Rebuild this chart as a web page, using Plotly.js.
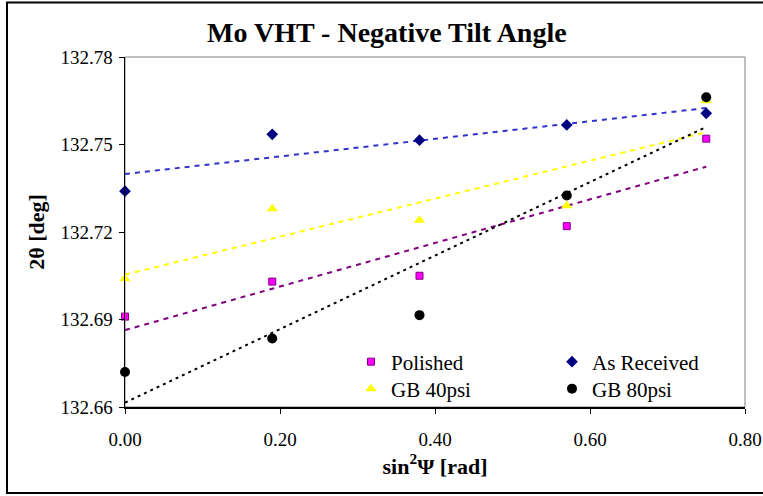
<!DOCTYPE html>
<html><head><meta charset="utf-8">
<script src="https://cdn.plot.ly/plotly-3.0.1.min.js"></script>
<style>html,body{margin:0;padding:0;background:#fff}</style>
</head><body><div id="chart" style="width:763px;height:496px"></div>
<script>
// ---- data ----
const sin2psi    = [0.00, 0.19, 0.38, 0.57, 0.75];
const polished   = [132.691, 132.703, 132.705, 132.722, 132.752];
const asReceived = [132.734, 132.7535, 132.7515, 132.7567, 132.7607];
const gb40       = [132.704, 132.728, 132.724, 132.729, 132.765];
const gb80       = [132.672, 132.6835, 132.6915, 132.7325, 132.7662];
const seriesNames = ['Polished', 'As Received', 'GB 40psi', 'GB 80psi'];
const xTicks = [0, 0.2, 0.4, 0.6, 0.8];
const yTicks = [132.66, 132.69, 132.72, 132.75, 132.78];

// least-squares linear trendline (as in the spreadsheet chart)
function fit(x, y) {
  const n = x.length;
  const mx = x.reduce((a, b) => a + b, 0) / n;
  const my = y.reduce((a, b) => a + b, 0) / n;
  let sxy = 0, sxx = 0;
  for (let i = 0; i < n; i++) { sxy += (x[i] - mx) * (y[i] - my); sxx += (x[i] - mx) ** 2; }
  const m = sxy / sxx;
  return { m: m, b: my - m * mx };
}
function trend(y, color, dash) {
  const f = fit(sin2psi, y);
  const xs = [Math.min(...sin2psi), Math.max(...sin2psi)];
  return { x: xs, y: xs.map(v => f.b + f.m * v), mode: 'lines', showlegend: false, hoverinfo: 'skip',
           line: { color: color, width: 2, dash: dash }, cliponaxis: false };
}

const FONT = '"Liberation Serif", "Times New Roman", Times, serif';
const traces = [
  trend(asReceived, '#3333CC', '5px,5px'),
  trend(gb40, '#FFFF00', '5px,5px'),
  trend(polished, '#800080', '5px,5px'),
  trend(gb80, '#000000', '3px,4px'),
  { x: sin2psi, y: polished, name: seriesNames[0], mode: 'markers', legend: 'legend', cliponaxis: false,
    marker: { symbol: 'square', size: 7, color: '#FF00FF', line: { color: '#800080', width: 1 } } },
  { x: sin2psi, y: asReceived, name: seriesNames[1], mode: 'markers', legend: 'legend2', cliponaxis: false,
    marker: { symbol: 'diamond', size: 9, color: '#000080' } },
  { x: sin2psi, y: gb40, name: seriesNames[2], mode: 'markers', legend: 'legend3', cliponaxis: false,
    marker: { symbol: 'triangle-up', size: 10, color: '#FFFF00' } },
  { x: sin2psi, y: gb80, name: seriesNames[3], mode: 'markers', legend: 'legend4', cliponaxis: false,
    marker: { symbol: 'circle', size: 10, color: '#000000' } }
];

// pixel helpers for placement
const L = 125, R = 745, T = 57, B = 407;
const px = v => (v - L) / (R - L);
const py = v => (B - v) / (B - T);
function leg(xp, yp) {
  return { x: px(xp), y: py(yp), xanchor: 'left', yanchor: 'middle', bgcolor: 'rgba(0,0,0,0)',
           borderwidth: 0, font: { family: FONT, size: 21, color: '#000' } };
}

const layout = {
  width: 763, height: 496,
  margin: { l: L, r: 763 - R, t: T, b: 496 - B },
  paper_bgcolor: '#fff', plot_bgcolor: '#fff',
  font: { family: FONT, color: '#000' },
  title: { text: 'Mo VHT - Negative Tilt Angle', x: 0.507, xanchor: 'center', y: 1 - 32 / 496, yanchor: 'middle',
           font: { family: FONT, size: 28, weight: 'bold', color: '#000' } },
  xaxis: { range: [0, 0.8], tickvals: xTicks, tickformat: '.2f', ticks: 'outside', ticklen: 5, tickcolor: '#000',
           showline: true, linecolor: '#000', linewidth: 1.5, showgrid: false, zeroline: false,
           tickfont: { family: FONT, size: 19, color: '#000' }, ticklabelstandoff: 10,
           title: { text: 'sin<sup>2</sup>Ψ [rad]', standoff: 6, font: { family: FONT, size: 22, weight: 'bold', color: '#000' } } },
  yaxis: { range: [132.66, 132.78], tickvals: yTicks, tickformat: '.2f', ticks: 'outside', ticklen: 5, tickcolor: '#000',
           showline: true, linecolor: '#000', linewidth: 1.5, showgrid: false, zeroline: false,
           tickfont: { family: FONT, size: 19, color: '#000' }, ticklabelstandoff: 2,
           title: { text: '2θ [deg]', standoff: 10, font: { family: FONT, size: 22, weight: 'bold', color: '#000' } } },
  legend: leg(351, 362),
  legend2: leg(552, 362),
  legend3: leg(351, 389),
  legend4: leg(552, 389),
  shapes: [
    { type: 'rect', xref: 'paper', yref: 'paper', x0: 0, x1: 1, y0: 0, y1: 1, layer: 'below',
      line: { color: '#808080', width: 1 } },
    { type: 'rect', xref: 'paper', yref: 'paper', x0: px(7), x1: px(775), y0: py(493), y1: py(2.5), layer: 'below',
      line: { color: '#000', width: 2 } }
  ]
};

Plotly.newPlot('chart', traces, layout, { displayModeBar: false, staticPlot: true });
</script>
</body></html>
